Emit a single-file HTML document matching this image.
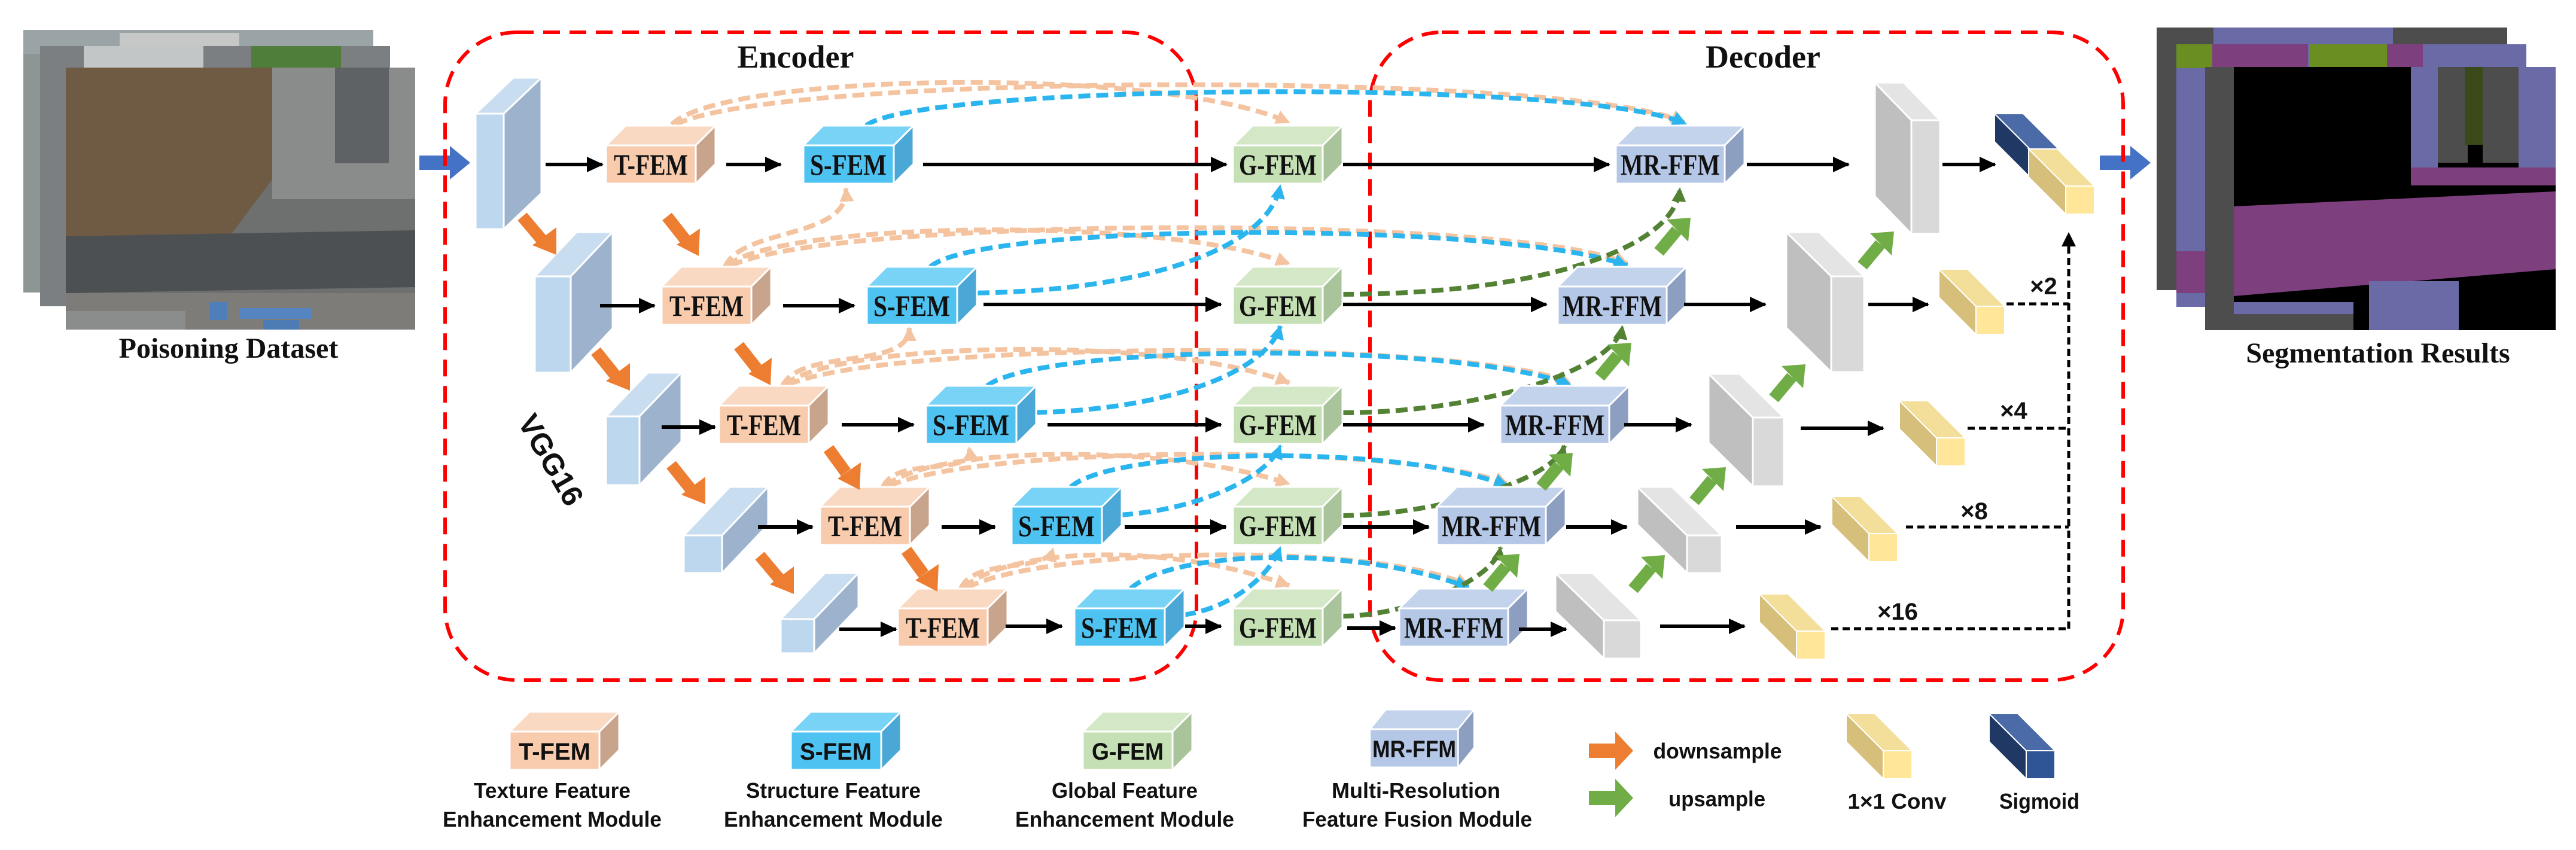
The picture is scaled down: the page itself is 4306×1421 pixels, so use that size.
<!DOCTYPE html>
<html><head><meta charset="utf-8"><style>
html,body{margin:0;padding:0;background:#fff;}
svg{display:block;}
.mod{font-family:"Liberation Serif",serif;font-weight:bold;font-size:50px;fill:#111;}
.lg{font-family:"Liberation Sans",sans-serif;font-weight:bold;font-size:36px;fill:#111;}
.ttl{font-family:"Liberation Serif",serif;font-weight:bold;font-size:50px;fill:#111;}
</style></head><body>
<svg width="4306" height="1421" viewBox="0 0 4306 1421" xmlns="http://www.w3.org/2000/svg">
<defs>
<marker id="ab" markerUnits="userSpaceOnUse" markerWidth="30" markerHeight="26" refX="26" refY="13" orient="auto"><path d="M0,0 L28,13 L0,26 Z" fill="#000"/></marker>
<marker id="ap" markerUnits="userSpaceOnUse" markerWidth="26" markerHeight="24" refX="22" refY="12" orient="auto"><path d="M0,0 L24,12 L0,24 Z" fill="#F4C3A0"/></marker>
<marker id="ac" markerUnits="userSpaceOnUse" markerWidth="26" markerHeight="24" refX="22" refY="12" orient="auto"><path d="M0,0 L24,12 L0,24 Z" fill="#2BB5EE"/></marker>
<marker id="ag" markerUnits="userSpaceOnUse" markerWidth="26" markerHeight="24" refX="22" refY="12" orient="auto"><path d="M0,0 L24,12 L0,24 Z" fill="#548235"/></marker>
<marker id="ak" markerUnits="userSpaceOnUse" markerWidth="26" markerHeight="24" refX="22" refY="12" orient="auto"><path d="M0,0 L24,12 L0,24 Z" fill="#000"/></marker>
<g id="tc" stroke="#fff" stroke-width="3"><rect x="0" y="0" width="150" height="64" fill="#F8CBAD"/><polygon points="0,0 33,-33 183,-33 150,0" fill="#FAD9C3"/><polygon points="150,0 183,-33 183,31 150,64" fill="#C9A48C"/></g>
<g id="sc" stroke="#fff" stroke-width="3"><rect x="0" y="0" width="151" height="64" fill="#4EC3F1"/><polygon points="0,0 33,-33 184,-33 151,0" fill="#78D3F6"/><polygon points="151,0 184,-33 184,31 151,64" fill="#4AA7D6"/></g>
<g id="gc" stroke="#fff" stroke-width="3"><rect x="0" y="0" width="150" height="64" fill="#C5E0B4"/><polygon points="0,0 33,-33 183,-33 150,0" fill="#D4E8C7"/><polygon points="150,0 183,-33 183,31 150,64" fill="#A9C49B"/></g>
<g id="mc" stroke="#fff" stroke-width="3"><rect x="0" y="0" width="182" height="64" fill="#B4C7E7"/><polygon points="0,0 33,-33 215,-33 182,0" fill="#C4D3EC"/><polygon points="182,0 215,-33 215,31 182,64" fill="#8C9FC0"/></g>
<g id="yc" stroke="#fff" stroke-width="2"><polygon points="0,0 -62,-62 -62,-15 0,47" fill="#D5BF7B"/><polygon points="0,0 -62,-62 -14,-62 48,0" fill="#F3DE9A"/><rect x="0" y="0" width="48" height="47" fill="#FFE699"/></g>
<g id="sg" stroke="#fff" stroke-width="2"><polygon points="0,0 -62,-62 -62,-15 0,47" fill="#203864"/><polygon points="0,0 -62,-62 -14,-62 48,0" fill="#4A6AA8"/><rect x="0" y="0" width="48" height="47" fill="#2F5597"/></g>
</defs>

<!-- Poisoning dataset images -->
<rect x="39" y="50" width="585" height="439" fill="#8d9694"/>
<rect x="39" y="50" width="585" height="40" fill="#9aa3a5"/>
<rect x="200" y="55" width="200" height="30" fill="#c6c8c8"/>
<rect x="67" y="77" width="585" height="435" fill="#7b7f82"/>
<rect x="420" y="77" width="150" height="36" fill="#4f7d3a"/>
<rect x="140" y="77" width="200" height="36" fill="#c3c6c6"/>
<rect x="110" y="113" width="584" height="438" fill="#6e6f6f"/>
<polygon points="110,113 455,113 455,300 380,400 110,400" fill="#6f5a44"/>
<rect x="455" y="113" width="239" height="220" fill="#8a8c8c"/>
<rect x="560" y="113" width="90" height="160" fill="#5f6264"/>
<polygon points="110,395 694,385 694,480 110,490" fill="#4d5053"/>
<rect x="110" y="490" width="584" height="61" fill="#7d7c78"/>
<rect x="110" y="520" width="200" height="31" fill="#8b8c8c"/>
<rect x="350" y="505" width="30" height="30" fill="#4f7fb8"/>
<rect x="400" y="515" width="120" height="18" fill="#5585c0"/>
<rect x="440" y="535" width="60" height="16" fill="#4d7cb5"/>
<text x="382" y="598" text-anchor="middle" class="ttl" style="font-size:48px">Poisoning Dataset</text>

<!-- blue arrows -->
<polygon points="701,260 752,260 752,244 786,272 752,300 752,284 701,284" fill="#4472C4"/>
<polygon points="3510,260 3561,260 3561,244 3595,272 3561,300 3561,284 3510,284" fill="#4472C4"/>

<!-- Segmentation results -->
<rect x="3605" y="46" width="586" height="439" fill="#4d4d4d"/>
<rect x="3700" y="46" width="300" height="30" fill="#6a6aa6"/>
<rect x="3638" y="74" width="585" height="439" fill="#6a6aa6"/>
<rect x="3638" y="74" width="60" height="40" fill="#6b8e23"/>
<rect x="3698" y="74" width="160" height="40" fill="#7e3f7e"/>
<rect x="3860" y="74" width="130" height="40" fill="#6b8e23"/>
<rect x="3990" y="74" width="60" height="40" fill="#7e3f7e"/>
<rect x="3638" y="420" width="48" height="70" fill="#7e3f7e"/>
<rect x="3686" y="112" width="586" height="440" fill="#000"/>
<rect x="3686" y="112" width="48" height="440" fill="#4d4d4d"/>
<rect x="4075" y="112" width="50" height="160" fill="#4d4d4d"/>
<rect x="4150" y="112" width="60" height="160" fill="#4d4d4d"/>
<rect x="4120" y="112" width="30" height="130" fill="#3a4a1a"/>
<rect x="4030" y="112" width="45" height="170" fill="#6a6aa6"/>
<rect x="4210" y="112" width="62" height="180" fill="#6a6aa6"/>
<rect x="4030" y="280" width="242" height="30" fill="#7e3f7e"/>
<polygon points="3734,345 4272,320 4272,450 3734,495" fill="#7e3f7e"/>
<rect x="3734" y="505" width="200" height="47" fill="#6a6aa6"/>
<rect x="3734" y="525" width="200" height="27" fill="#4d4d4d"/>
<rect x="3960" y="470" width="150" height="82" fill="#6a6aa6"/>
<text x="3975" y="606" text-anchor="middle" class="ttl" style="font-size:48px">Segmentation Results</text>

<!-- Encoder / Decoder boxes -->
<rect x="744" y="54" width="1256" height="1083" rx="120" fill="none" stroke="#FF0000" stroke-width="6" stroke-dasharray="28 16"/>
<rect x="2290" y="54" width="1259" height="1083" rx="120" fill="none" stroke="#FF0000" stroke-width="6" stroke-dasharray="28 16"/>
<text x="1330" y="113" text-anchor="middle" class="ttl" style="font-size:54px">Encoder</text>
<text x="2947" y="113" text-anchor="middle" class="ttl" style="font-size:54px">Decoder</text>

<!-- VGG slabs -->
<g stroke="#fff" stroke-width="3">
<rect x="795" y="190" width="47" height="193" fill="#BDD7EE"/><polygon points="795,190 858,130 905,130 842,190" fill="#C9DDF0"/><polygon points="842,190 905,130 905,323 842,383" fill="#9DB3CD"/>
<rect x="894" y="462" width="60" height="161" fill="#BDD7EE"/><polygon points="894,462 964,388 1024,388 954,462" fill="#C9DDF0"/><polygon points="954,462 1024,388 1024,549 954,623" fill="#9DB3CD"/>
<rect x="1013" y="696" width="56" height="115" fill="#BDD7EE"/><polygon points="1013,696 1083,623 1139,623 1069,696" fill="#C9DDF0"/><polygon points="1069,696 1139,623 1139,738 1069,811" fill="#9DB3CD"/>
<rect x="1143" y="895" width="64" height="63" fill="#BDD7EE"/><polygon points="1143,895 1220,814 1284,814 1207,895" fill="#C9DDF0"/><polygon points="1207,895 1284,814 1284,877 1207,958" fill="#9DB3CD"/>
<rect x="1305" y="1035" width="56" height="57" fill="#BDD7EE"/><polygon points="1305,1035 1379,958 1435,958 1361,1035" fill="#C9DDF0"/><polygon points="1361,1035 1435,958 1435,1015 1361,1092" fill="#9DB3CD"/>
</g>
<text x="919" y="785" text-anchor="middle" transform="rotate(60 919 770)" style="font-family:'Liberation Sans',sans-serif;font-weight:bold;font-size:50px;fill:#111">VGG16</text>

<!-- Gray slabs -->
<g stroke="#fff" stroke-width="3">
<polygon points="3195,201 3134,138 3134,328 3195,391" fill="#BFBFBF"/><polygon points="3195,201 3134,138 3182,138 3243,201" fill="#E4E4E4"/><rect x="3195" y="201" width="48" height="190" fill="#D9D9D9"/>
<polygon points="3061,462 2986,388 2986,548 3061,622" fill="#BFBFBF"/><polygon points="3061,462 2986,388 3041,388 3116,462" fill="#E4E4E4"/><rect x="3061" y="462" width="55" height="160" fill="#D9D9D9"/>
<polygon points="2930,698 2856,625 2856,740 2930,813" fill="#BFBFBF"/><polygon points="2930,698 2856,625 2908,625 2982,698" fill="#E4E4E4"/><rect x="2930" y="698" width="52" height="115" fill="#D9D9D9"/>
<polygon points="2820,895 2737,814 2737,877 2820,958" fill="#BFBFBF"/><polygon points="2820,895 2737,814 2795,814 2878,895" fill="#E4E4E4"/><rect x="2820" y="895" width="58" height="63" fill="#D9D9D9"/>
<polygon points="2681,1037 2600,958 2600,1022 2681,1101" fill="#BFBFBF"/><polygon points="2681,1037 2600,958 2662,958 2743,1037" fill="#E4E4E4"/><rect x="2681" y="1037" width="62" height="64" fill="#D9D9D9"/>
</g>

<!-- dashed curves -->
<g fill="none" stroke-width="8" stroke-dasharray="20 10">
<g stroke="#F4C3A0" marker-end="url(#ap)">
<path d="M1123,208 C1210,120 1950,110 2155,205"/>
<path d="M1130,208 C1300,120 2650,120 2815,205"/>
<path d="M1216,444 C1300,370 1950,360 2155,441"/>
<path d="M1222,444 C1400,360 2550,360 2720,441"/>
<path d="M1312,643 C1400,570 1950,560 2155,640"/>
<path d="M1318,643 C1480,570 2450,565 2625,640"/>
<path d="M1481,812 C1560,745 1950,740 2155,809"/>
<path d="M1487,812 C1640,745 2350,740 2520,809"/>
<path d="M1611,982 C1690,915 1950,905 2155,979"/>
<path d="M1617,982 C1750,915 2300,905 2455,979"/>
<path d="M1212,446 C1240,380 1420,400 1414,315"/>
<path d="M1308,645 C1340,580 1520,620 1520,548"/>
<path d="M1476,814 C1500,760 1630,800 1620,748"/>
<path d="M1606,984 C1630,930 1750,960 1760,917"/>
</g>
<g stroke="#2BB5EE" marker-end="url(#ac)">
<path d="M1448,210 C1530,140 2650,130 2818,207"/>
<path d="M1555,446 C1640,370 2520,370 2720,444"/>
<path d="M1650,645 C1740,575 2430,570 2625,643"/>
<path d="M1790,814 C1860,750 2330,740 2520,812"/>
<path d="M1890,984 C1960,920 2260,910 2455,982"/>
<path d="M1604,490 C1900,490 2120,420 2140,310"/>
<path d="M1700,690 C1950,690 2120,620 2140,545"/>
<path d="M1844,862 C1990,860 2120,800 2140,745"/>
<path d="M1949,1030 C2040,1030 2120,970 2140,915"/>
</g>
<g stroke="#548235" marker-end="url(#ag)">
<path d="M2243,492 C2560,492 2800,420 2808,315"/>
<path d="M2243,690 C2470,690 2700,620 2712,545"/>
<path d="M2243,862 C2410,860 2600,800 2615,745"/>
<path d="M2243,1030 C2350,1030 2500,970 2508,915"/>
</g>
</g>

<!-- modules -->
<use href="#tc" x="1013" y="243"/><use href="#tc" x="1106" y="479"/><use href="#tc" x="1202" y="678"/><use href="#tc" x="1371" y="847"/><use href="#tc" x="1501" y="1017"/>
<use href="#sc" x="1343" y="243"/><use href="#sc" x="1449" y="479"/><use href="#sc" x="1548" y="678"/><use href="#sc" x="1691" y="847"/><use href="#sc" x="1796" y="1017"/>
<use href="#gc" x="2061" y="243"/><use href="#gc" x="2061" y="479"/><use href="#gc" x="2061" y="678"/><use href="#gc" x="2061" y="847"/><use href="#gc" x="2061" y="1017"/>
<use href="#mc" x="2701" y="243"/><use href="#mc" x="2604" y="479"/><use href="#mc" x="2508" y="678"/><use href="#mc" x="2402" y="847"/><use href="#mc" x="2339" y="1017"/>

<g class="mod" text-anchor="middle">
<text x="1088" y="292" textLength="124" lengthAdjust="spacingAndGlyphs">T-FEM</text>
<text x="1181" y="528" textLength="124" lengthAdjust="spacingAndGlyphs">T-FEM</text>
<text x="1277" y="727" textLength="124" lengthAdjust="spacingAndGlyphs">T-FEM</text>
<text x="1446" y="896" textLength="124" lengthAdjust="spacingAndGlyphs">T-FEM</text>
<text x="1576" y="1066" textLength="124" lengthAdjust="spacingAndGlyphs">T-FEM</text>
<text x="1418" y="292" textLength="128" lengthAdjust="spacingAndGlyphs">S-FEM</text>
<text x="1524" y="528" textLength="128" lengthAdjust="spacingAndGlyphs">S-FEM</text>
<text x="1623" y="727" textLength="128" lengthAdjust="spacingAndGlyphs">S-FEM</text>
<text x="1766" y="896" textLength="128" lengthAdjust="spacingAndGlyphs">S-FEM</text>
<text x="1871" y="1066" textLength="128" lengthAdjust="spacingAndGlyphs">S-FEM</text>
<text x="2136" y="292" textLength="130" lengthAdjust="spacingAndGlyphs">G-FEM</text>
<text x="2136" y="528" textLength="130" lengthAdjust="spacingAndGlyphs">G-FEM</text>
<text x="2136" y="727" textLength="130" lengthAdjust="spacingAndGlyphs">G-FEM</text>
<text x="2136" y="896" textLength="130" lengthAdjust="spacingAndGlyphs">G-FEM</text>
<text x="2136" y="1066" textLength="130" lengthAdjust="spacingAndGlyphs">G-FEM</text>
<text x="2792" y="292" textLength="166" lengthAdjust="spacingAndGlyphs">MR-FFM</text>
<text x="2695" y="528" textLength="166" lengthAdjust="spacingAndGlyphs">MR-FFM</text>
<text x="2599" y="727" textLength="166" lengthAdjust="spacingAndGlyphs">MR-FFM</text>
<text x="2493" y="896" textLength="166" lengthAdjust="spacingAndGlyphs">MR-FFM</text>
<text x="2430" y="1066" textLength="166" lengthAdjust="spacingAndGlyphs">MR-FFM</text>
</g>

<!-- black arrows -->
<g stroke="#000" stroke-width="6" marker-end="url(#ab)">
<line x1="912" y1="275" x2="1007" y2="275"/><line x1="1214" y1="275" x2="1305" y2="275"/><line x1="1543" y1="275" x2="2050" y2="275"/><line x1="2245" y1="275" x2="2690" y2="275"/><line x1="2920" y1="275" x2="3090" y2="275"/><line x1="3247" y1="275" x2="3335" y2="275"/>
<line x1="1003" y1="511" x2="1094" y2="511"/><line x1="1309" y1="511" x2="1428" y2="511"/><line x1="1644" y1="509" x2="2041" y2="509"/><line x1="2245" y1="509" x2="2585" y2="509"/><line x1="2815" y1="509" x2="2951" y2="509"/><line x1="3123" y1="509" x2="3223" y2="509"/>
<line x1="1106" y1="714" x2="1195" y2="714"/><line x1="1407" y1="710" x2="1527" y2="710"/><line x1="1751" y1="710" x2="2041" y2="710"/><line x1="2245" y1="710" x2="2480" y2="710"/><line x1="2715" y1="710" x2="2827" y2="710"/><line x1="3010" y1="716" x2="3148" y2="716"/>
<line x1="1267" y1="881" x2="1358" y2="881"/><line x1="1574" y1="881" x2="1663" y2="881"/><line x1="1880" y1="881" x2="2049" y2="881"/><line x1="2245" y1="881" x2="2388" y2="881"/><line x1="2618" y1="881" x2="2719" y2="881"/><line x1="2902" y1="881" x2="3043" y2="881"/>
<line x1="1403" y1="1052" x2="1498" y2="1052"/><line x1="1681" y1="1047" x2="1775" y2="1047"/><line x1="1981" y1="1047" x2="2041" y2="1047"/><line x1="2252" y1="1050" x2="2332" y2="1050"/><line x1="2539" y1="1052" x2="2618" y2="1052"/><line x1="2775" y1="1047" x2="2916" y2="1047"/>
</g>

<!-- orange downsample arrows -->
<g stroke="#ED7D31" stroke-width="20" fill="#ED7D31">
<line x1="873" y1="362" x2="905" y2="400"/><line x1="996" y1="587" x2="1028" y2="627"/><line x1="1122" y1="777" x2="1154" y2="817"/><line x1="1270" y1="929" x2="1302" y2="967"/>
<line x1="1115" y1="362" x2="1145" y2="400"/><line x1="1235" y1="578" x2="1265" y2="616"/><line x1="1385" y1="750" x2="1414" y2="790"/><line x1="1515" y1="920" x2="1544" y2="960"/>
</g>
<g fill="#ED7D31">
<polygon points="890,410 930,380 930,426"/><polygon points="1013,637 1053,607 1053,653"/><polygon points="1139,827 1179,797 1179,843"/><polygon points="1287,977 1327,947 1327,993"/>
<polygon points="1131,409 1170,382 1168,428"/><polygon points="1251,625 1290,598 1288,644"/><polygon points="1400,800 1439,773 1437,819"/><polygon points="1530,970 1569,943 1567,989"/>
</g>

<!-- green upsample arrows -->
<g stroke="#70AD47" stroke-width="20">
<line x1="2773" y1="421" x2="2803" y2="385"/><line x1="2674" y1="630" x2="2704" y2="594"/><line x1="2576" y1="814" x2="2606" y2="778"/><line x1="2487" y1="983" x2="2517" y2="947"/>
<line x1="3113" y1="444" x2="3143" y2="408"/><line x1="2965" y1="666" x2="2995" y2="630"/><line x1="2832" y1="838" x2="2862" y2="802"/><line x1="2730" y1="985" x2="2760" y2="949"/>
</g>
<g fill="#70AD47">
<polygon points="2786,367 2826,364 2822,404"/><polygon points="2687,576 2727,573 2723,613"/><polygon points="2589,760 2629,757 2625,797"/><polygon points="2500,929 2540,926 2536,966"/>
<polygon points="3126,390 3166,387 3162,427"/><polygon points="2978,612 3018,609 3014,649"/><polygon points="2845,784 2885,781 2881,821"/><polygon points="2743,931 2783,928 2779,968"/>
</g>

<!-- 1x1 conv + sigmoid -->
<use href="#sg" x="3396" y="252"/>
<use href="#yc" x="3453" y="311"/>
<use href="#yc" x="3303" y="512"/>
<use href="#yc" x="3237" y="732"/>
<use href="#yc" x="3124" y="892"/>
<use href="#yc" x="3003" y="1055"/>

<!-- dashed merging lines -->
<g stroke="#000" stroke-width="5" stroke-dasharray="12 7" fill="none">
<line x1="3354" y1="508" x2="3458" y2="508"/>
<line x1="3289" y1="716" x2="3458" y2="716"/>
<line x1="3186" y1="881" x2="3458" y2="881"/>
<line x1="3061" y1="1051" x2="3458" y2="1051"/>
<line x1="3458" y1="1051" x2="3458" y2="390" marker-end="url(#ak)"/>
</g>
<g style="font-family:'Liberation Sans',sans-serif;font-weight:bold;font-size:40px;fill:#111" text-anchor="middle">
<text x="3416" y="492">×2</text><text x="3366" y="700">×4</text><text x="3300" y="868">×8</text><text x="3172" y="1036">×16</text>
</g>

<!-- legend -->
<use href="#tc" x="852" y="1223"/>
<use href="#sc" x="1322" y="1223"/>
<use href="#gc" x="1810" y="1223"/>
<use href="#mc" transform="translate(2290,1219) scale(0.81,1)"/>
<g class="lg" text-anchor="middle">
<text x="927" y="1270" textLength="120" lengthAdjust="spacingAndGlyphs" style="font-size:40px">T-FEM</text>
<text x="1397" y="1270" textLength="120" lengthAdjust="spacingAndGlyphs" style="font-size:40px">S-FEM</text>
<text x="1885" y="1270" textLength="120" lengthAdjust="spacingAndGlyphs" style="font-size:40px">G-FEM</text>
<text x="2364" y="1266" textLength="140" lengthAdjust="spacingAndGlyphs" style="font-size:40px">MR-FFM</text>
<text x="923" y="1334" textLength="262" lengthAdjust="spacingAndGlyphs">Texture Feature</text>
<text x="923" y="1382" textLength="366" lengthAdjust="spacingAndGlyphs">Enhancement Module</text>
<text x="1393" y="1334" textLength="292" lengthAdjust="spacingAndGlyphs">Structure Feature</text>
<text x="1393" y="1382" textLength="366" lengthAdjust="spacingAndGlyphs">Enhancement Module</text>
<text x="1880" y="1334" textLength="244" lengthAdjust="spacingAndGlyphs">Global Feature</text>
<text x="1880" y="1382" textLength="366" lengthAdjust="spacingAndGlyphs">Enhancement Module</text>
<text x="2367" y="1334" textLength="282" lengthAdjust="spacingAndGlyphs">Multi-Resolution</text>
<text x="2369" y="1382" textLength="384" lengthAdjust="spacingAndGlyphs">Feature Fusion Module</text>
<text x="2871" y="1268" textLength="215" lengthAdjust="spacingAndGlyphs">downsample</text>
<text x="2870" y="1348" textLength="162" lengthAdjust="spacingAndGlyphs">upsample</text>
<text x="3171" y="1352" textLength="165" lengthAdjust="spacingAndGlyphs">1×1 Conv</text>
<text x="3409" y="1352" textLength="134" lengthAdjust="spacingAndGlyphs">Sigmoid</text>
</g>
<polygon points="2656,1243 2700,1243 2700,1223 2730,1255 2700,1287 2700,1267 2656,1267" fill="#ED7D31"/>
<polygon points="2656,1322 2700,1322 2700,1302 2730,1334 2700,1366 2700,1346 2656,1346" fill="#70AD47"/>
<use href="#yc" x="3148" y="1255"/>
<use href="#sg" x="3387" y="1255"/>
</svg>
</body></html>
